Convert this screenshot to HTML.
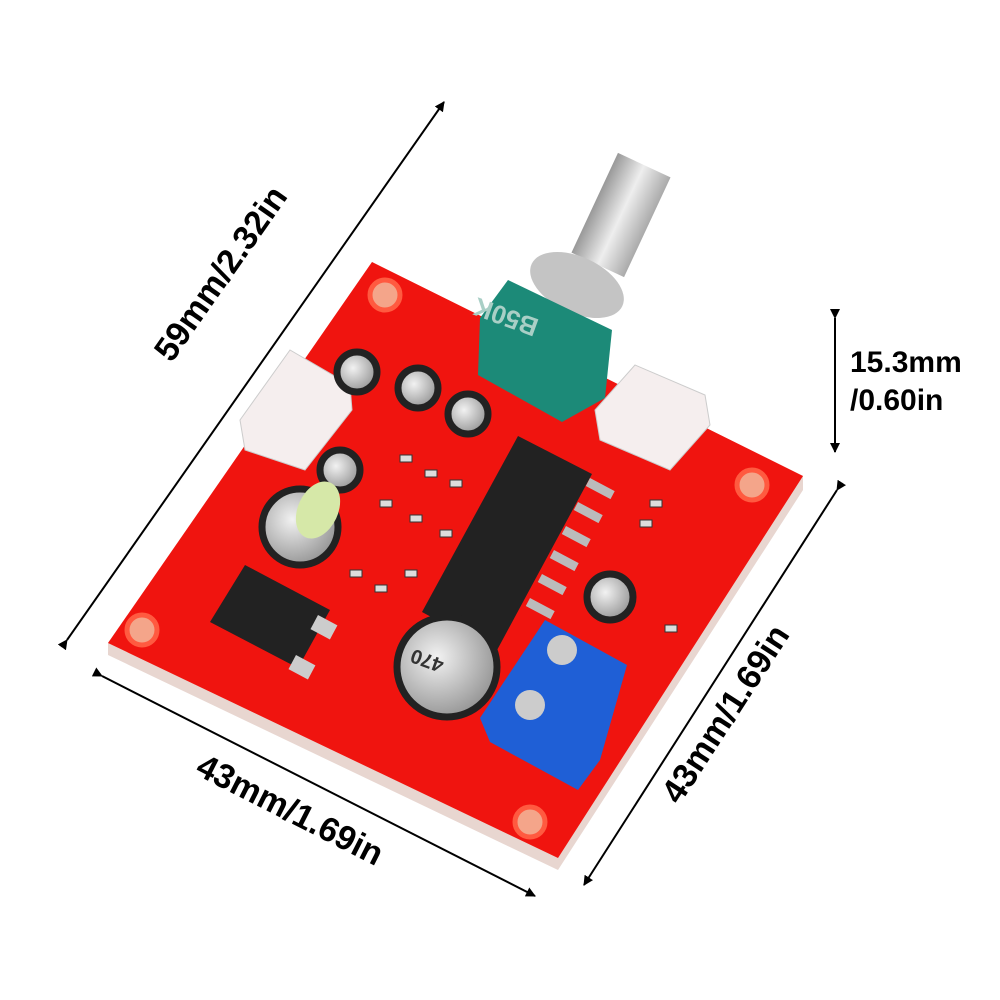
<!DOCTYPE html>
<html><head><style>
html,body{margin:0;padding:0;background:#fff;}
svg{display:block;}
text{font-family:"Liberation Sans",sans-serif;}
</style></head><body>
<svg width="1000" height="1000" viewBox="0 0 1000 1000" xmlns="http://www.w3.org/2000/svg">
<defs>
<marker id="ar" markerWidth="10" markerHeight="10" refX="9" refY="5" orient="auto" markerUnits="userSpaceOnUse"><path d="M0,0 L10,5 L0,10 Z" fill="#000"/></marker>
<radialGradient id="cap" cx="40%" cy="40%" r="60%"><stop offset="0" stop-color="#f2f2f2"/><stop offset="1" stop-color="#999"/></radialGradient>
<linearGradient id="shaft" x1="0" x2="1"><stop offset="0" stop-color="#999"/><stop offset="0.5" stop-color="#eee"/><stop offset="1" stop-color="#aaa"/></linearGradient>
</defs>
<line x1="67" y1="640" x2="444" y2="102" stroke="#000" stroke-width="2" marker-end="url(#ar)" marker-start="url(#ar)"/>
<line x1="102" y1="676" x2="535" y2="896" stroke="#000" stroke-width="2" marker-end="url(#ar)" marker-start="url(#ar)"/>
<line x1="837" y1="490" x2="584" y2="885" stroke="#000" stroke-width="2" marker-end="url(#ar)" marker-start="url(#ar)"/>
<line x1="835" y1="318" x2="835" y2="452" stroke="#000" stroke-width="2" marker-end="url(#ar)" marker-start="url(#ar)"/>
<text x="230" y="280" font-size="34" font-weight="bold" text-anchor="middle" transform="rotate(-55 230 280)">59mm/2.32in</text>
<text x="285" y="820" font-size="34" font-weight="bold" text-anchor="middle" transform="rotate(27 285 820)">43mm/1.69in</text>
<text x="735" y="720" font-size="34" font-weight="bold" text-anchor="middle" transform="rotate(-57 735 720)">43mm/1.69in</text>
<text x="850" y="372" font-size="30" font-weight="bold">15.3mm</text>
<text x="850" y="410" font-size="30" font-weight="bold">/0.60in</text>
<polygon points="108,643 372,262 803,476 803,490 558,870 108,655" fill="#e8d6d0"/>
<polygon points="108,643 372,262 803,476 558,858" fill="#f0140f"/>
<g fill="#f4a58a" stroke="#ff5a40" stroke-width="5">
<circle cx="385" cy="295" r="15"/><circle cx="752" cy="485" r="15"/><circle cx="142" cy="630" r="15"/><circle cx="530" cy="822" r="15"/></g>
<polygon points="240,420 290,350 350,385 352,410 305,470 245,450" fill="#f5eeee" stroke="#ccc"/>
<polygon points="595,410 635,365 705,395 710,425 670,470 600,440" fill="#f5eeee" stroke="#ccc"/>
<rect x="592" y="160" width="58" height="110" fill="url(#shaft)" transform="rotate(25 621 215)"/>
<ellipse cx="577" cy="285" rx="50" ry="28" fill="#c4c4c4" transform="rotate(25 577 285)"/>
<polygon points="480,318 508,280 612,330 605,398 562,422 478,375" fill="#1c8a78"/>
<text x="540" y="320" font-size="26" font-weight="bold" fill="#a9cfc6" transform="rotate(200 540 320)">B50K</text>
<polygon points="518,436 592,474 496,652 422,612" fill="#222"/>
<g fill="#bbb">
<rect x="590" y="478" width="28" height="9" transform="rotate(28 590 478)"/>
<rect x="578" y="502" width="28" height="9" transform="rotate(28 578 502)"/>
<rect x="566" y="526" width="28" height="9" transform="rotate(28 566 526)"/>
<rect x="554" y="550" width="28" height="9" transform="rotate(28 554 550)"/>
<rect x="542" y="574" width="28" height="9" transform="rotate(28 542 574)"/>
<rect x="530" y="598" width="28" height="9" transform="rotate(28 530 598)"/>
</g>
<polygon points="210,622 245,565 330,610 298,668" fill="#222"/>
<rect x="318" y="615" width="22" height="16" fill="#ccc" transform="rotate(28 318 615)"/>
<rect x="296" y="655" width="22" height="16" fill="#ccc" transform="rotate(28 296 655)"/>
<g stroke="#222" stroke-width="7">
<circle cx="357" cy="372" r="20" fill="url(#cap)"/>
<circle cx="418" cy="388" r="20" fill="url(#cap)"/>
<circle cx="468" cy="414" r="20" fill="url(#cap)"/>
<circle cx="340" cy="470" r="20" fill="url(#cap)"/>
<circle cx="610" cy="597" r="23" fill="url(#cap)"/>
<circle cx="300" cy="527" r="38" fill="url(#cap)"/>
<circle cx="447" cy="667" r="50" fill="url(#cap)"/>
</g>
<ellipse cx="318" cy="510" rx="20" ry="30" fill="#d6e8a8" transform="rotate(25 318 510)"/>
<text x="445" y="660" font-size="20" font-weight="bold" fill="#333" transform="rotate(200 445 660)">470</text>
<polygon points="480,718 545,620 627,665 600,760 578,790 490,742" fill="#1f5fd6"/>
<circle cx="562" cy="650" r="15" fill="#ccc"/><circle cx="530" cy="705" r="15" fill="#ccc"/>
<g fill="#ddd" stroke="#333" stroke-width="1">
<rect x="400" y="455" width="12" height="7"/><rect x="425" y="470" width="12" height="7"/><rect x="450" y="480" width="12" height="7"/>
<rect x="380" y="500" width="12" height="7"/><rect x="410" y="515" width="12" height="7"/><rect x="440" y="530" width="12" height="7"/>
<rect x="350" y="570" width="12" height="7"/><rect x="375" y="585" width="12" height="7"/><rect x="405" y="570" width="12" height="7"/>
<rect x="650" y="500" width="12" height="7"/><rect x="640" y="520" width="12" height="7"/><rect x="665" y="625" width="12" height="7"/>
</g>
</svg>
</body></html>
